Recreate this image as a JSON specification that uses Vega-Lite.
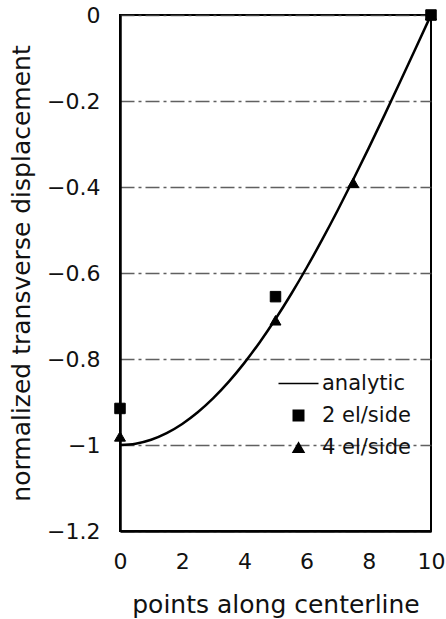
{
  "$schema": "https://vega.github.io/schema/vega-lite/v6.json",
  "width": 311,
  "height": 516,
  "autosize": {"type": "none"},
  "padding": {"left": 120, "top": 15, "right": 15, "bottom": 88},
  "background": "white",
  "config": {
    "font": "DejaVu Sans",
    "view": {"stroke": "black", "strokeWidth": 2},
    "axis": {
      "domain": true,
      "domainColor": "black",
      "domainWidth": 2.5,
      "ticks": false,
      "tickSize": 0,
      "labelFont": "DejaVu Sans",
      "labelFontSize": 22,
      "labelColor": "#111",
      "labelPadding": 20,
      "labelFlush": false,
      "labelOverlap": false,
      "titleFont": "DejaVu Sans",
      "titleFontSize": 25,
      "titleFontWeight": "normal",
      "titleColor": "#111"
    },
    "legend": {
      "orient": "none",
      "legendX": 168,
      "legendY": 358,
      "padding": 0,
      "labelFont": "DejaVu Sans",
      "labelFontSize": 21,
      "labelColor": "#111",
      "labelOffset": 13,
      "rowPadding": 10
    }
  },
  "datasets": {
    "curve": [
      {"x": 0, "y": -1, "series": "analytic"},
      {"x": 0.5, "y": -0.99692, "series": "analytic"},
      {"x": 1, "y": -0.98769, "series": "analytic"},
      {"x": 1.5, "y": -0.97237, "series": "analytic"},
      {"x": 2, "y": -0.95106, "series": "analytic"},
      {"x": 2.5, "y": -0.92388, "series": "analytic"},
      {"x": 3, "y": -0.89101, "series": "analytic"},
      {"x": 3.5, "y": -0.85264, "series": "analytic"},
      {"x": 4, "y": -0.80902, "series": "analytic"},
      {"x": 4.5, "y": -0.76041, "series": "analytic"},
      {"x": 5, "y": -0.70711, "series": "analytic"},
      {"x": 5.5, "y": -0.64945, "series": "analytic"},
      {"x": 6, "y": -0.58779, "series": "analytic"},
      {"x": 6.5, "y": -0.5225, "series": "analytic"},
      {"x": 7, "y": -0.45399, "series": "analytic"},
      {"x": 7.5, "y": -0.38268, "series": "analytic"},
      {"x": 8, "y": -0.30902, "series": "analytic"},
      {"x": 8.5, "y": -0.23345, "series": "analytic"},
      {"x": 9, "y": -0.15643, "series": "analytic"},
      {"x": 9.5, "y": -0.07846, "series": "analytic"},
      {"x": 10, "y": 0, "series": "analytic"}
    ],
    "pts": [
      {"x": 0, "y": -0.98, "series": "4 el/side"},
      {"x": 5, "y": -0.71, "series": "4 el/side"},
      {"x": 7.5, "y": -0.39, "series": "4 el/side"},
      {"x": 10, "y": 0, "series": "4 el/side"},
      {"x": 0, "y": -0.915, "series": "2 el/side"},
      {"x": 5, "y": -0.655, "series": "2 el/side"},
      {"x": 10, "y": 0, "series": "2 el/side"}
    ]
  },
  "encoding": {
    "x": {
      "field": "x",
      "type": "quantitative",
      "scale": {"domain": [0, 10], "nice": false, "zero": false},
      "axis": {
        "title": "points along centerline",
        "values": [0, 2, 4, 6, 8, 10],
        "grid": false,
        "titlePadding": 20
      }
    },
    "y": {
      "field": "y",
      "type": "quantitative",
      "scale": {"domain": [-1.2, 0], "nice": false, "zero": false},
      "axis": {
        "title": "normalized transverse displacement",
        "values": [0, -0.2, -0.4, -0.6, -0.8, -1, -1.2],
        "format": "~g",
        "grid": true,
        "gridColor": "#444",
        "gridWidth": 1.3,
        "gridOpacity": 0.85,
        "gridDash": [14, 4, 3, 4],
        "titlePadding": 12
      }
    }
  },
  "layer": [
    {
      "data": {"name": "curve"},
      "mark": {"type": "line", "color": "black", "strokeWidth": 2.5, "interpolate": "monotone"},
      "encoding": {}
    },
    {
      "data": {"name": "pts"},
      "mark": {"type": "point", "filled": true, "color": "black", "stroke": "black", "strokeWidth": 1, "opacity": 1},
      "encoding": {
        "shape": {
          "field": "series",
          "type": "nominal",
          "scale": {
            "domain": ["analytic", "2 el/side", "4 el/side"],
            "range": ["M-4,0H4", "square", "triangle-up"]
          },
          "legend": {
            "title": null,
            "encode": {
              "symbols": {
                "update": {
                  "stroke": {"value": "black"},
                  "strokeWidth": {"value": 2},
                  "fill": {"value": "black"},
                  "opacity": {"value": 1}
                }
              }
            }
          }
        },
        "size": {
          "field": "series",
          "type": "nominal",
          "scale": {
            "domain": ["analytic", "2 el/side", "4 el/side"],
            "range": [100, 120, 150]
          },
          "legend": {
            "title": null,
            "encode": {
              "symbols": {
                "update": {
                  "stroke": {"value": "black"},
                  "strokeWidth": {"value": 2},
                  "fill": {"value": "black"},
                  "opacity": {"value": 1}
                }
              }
            }
          }
        }
      }
    }
  ]
}
